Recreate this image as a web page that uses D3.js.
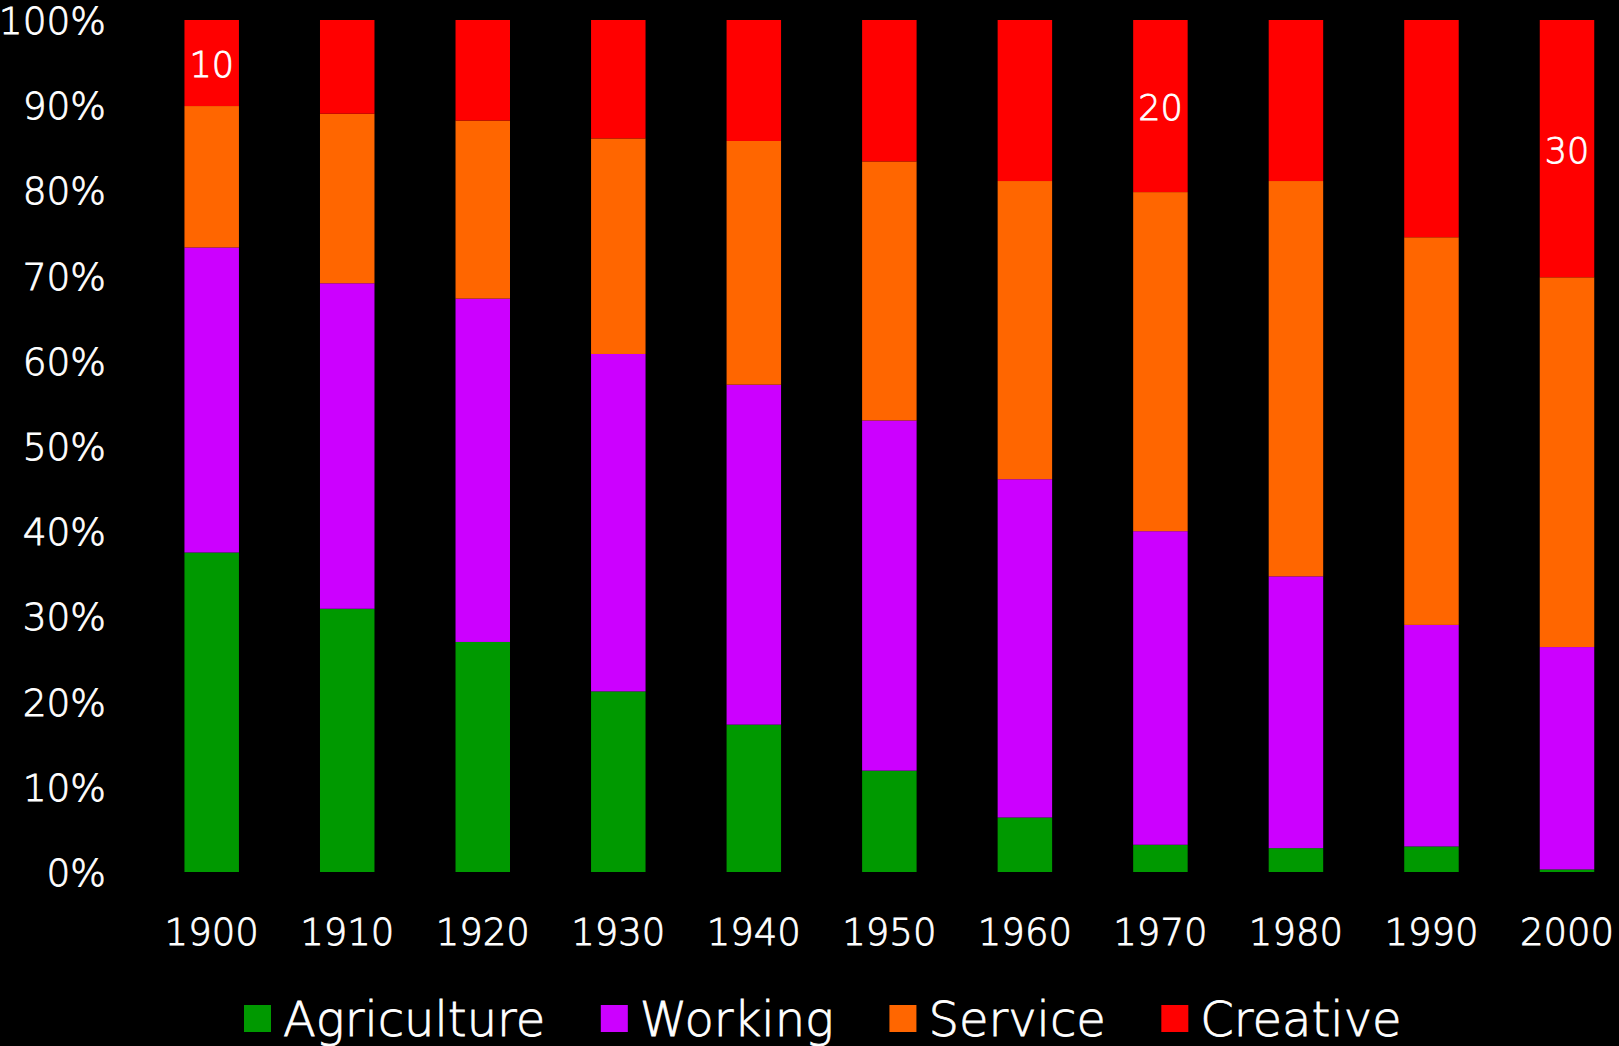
<!DOCTYPE html>
<html>
<head>
<meta charset="utf-8">
<script src="https://cdn.jsdelivr.net/npm/d3@7"></script>
<style>
  html, body { margin: 0; padding: 0; background: #000; }
  svg { display: block; }
  text { font-family: "DejaVu Sans", Verdana, sans-serif; font-weight: 200; fill: #fff; stroke: #fff; stroke-width: 0.8px; }
</style>
</head>
<body>
<svg id="chart" width="1619" height="1046"></svg>
<script>
// ---- Data ----
const years = ["1900","1910","1920","1930","1940","1950","1960","1970","1980","1990","2000"];
const seriesNames = ["Agriculture","Working","Service","Creative"];
const agriculture = [37.5, 30.9, 27.0, 21.2, 17.3, 11.9, 6.4, 3.2, 2.8, 3.0, 0.3];
const working     = [35.8, 38.2, 40.3, 39.6, 39.9, 41.1, 39.7, 36.8, 31.9, 26.0, 26.1];
const service     = [16.6, 19.9, 20.9, 25.3, 28.6, 30.4, 35.0, 39.8, 46.4, 45.5, 43.4];
const creative    = [10.1, 11.0, 11.8, 13.9, 14.2, 16.6, 18.9, 20.2, 18.9, 25.5, 30.2];
const creativeLabels = ["10", null, null, null, null, null, null, "20", null, null, "30"];
const yTicks = [0,10,20,30,40,50,60,70,80,90,100];
const colors = ["#009900","#CC00FF","#FF6600","#FF0000"];

// ---- Build table ----
const table = years.map((yr, i) => ({
  year: yr,
  Agriculture: agriculture[i],
  Working: working[i],
  Service: service[i],
  Creative: creative[i],
  label: creativeLabels[i]
}));

const svg = d3.select("#chart");

const step = 135.53;
const x = d3.scaleBand()
  .domain(years)
  .range([211.7 - step/2, 211.7 - step/2 + step*years.length])
  .paddingInner(0.598)
  .paddingOuter(0.299);

const y = d3.scaleLinear().domain([0, 100]).range([872, 20]);
const color = d3.scaleOrdinal().domain(seriesNames).range(colors);

const stacked = d3.stack().keys(seriesNames)(table);

// bars
svg.append("g").selectAll("g")
  .data(stacked)
  .join("g")
  .attr("fill", d => color(d.key))
  .selectAll("rect")
  .data(d => d)
  .join("rect")
  .attr("x", d => x(d.data.year))
  .attr("width", x.bandwidth())
  .attr("y", d => y(d[1]))
  .attr("height", d => y(d[0]) - y(d[1]));

// creative labels
const topLayer = stacked[stacked.length - 1];
svg.append("g").selectAll("text")
  .data(topLayer.filter(d => d.data.label))
  .join("text")
  .attr("x", d => x(d.data.year) + x.bandwidth()/2)
  .attr("y", d => (y(d[0]) + y(d[1]))/2 + 2)
  .attr("text-anchor", "middle")
  .attr("dominant-baseline", "central")
  .style("font-size", "35px")
  .text(d => d.data.label);

// y axis
const yAxis = d3.axisLeft(y).tickValues(yTicks).tickFormat(d => d + "%").tickSize(0).tickPadding(0);
const gy = svg.append("g").attr("transform", "translate(106,0)").call(yAxis);
gy.select(".domain").remove();
gy.selectAll("text").style("font-size", "37.5px").style("font-family", "'DejaVu Sans', sans-serif").style("font-weight", 200).attr("fill", "#fff").attr("dy", "0.36em");

// x axis
const xAxis = d3.axisBottom(x).tickSize(0).tickPadding(0);
const gx = svg.append("g").attr("transform", "translate(0,945)").call(xAxis);
gx.select(".domain").remove();
gx.selectAll("text").style("font-size", "37px").style("font-family", "'DejaVu Sans', sans-serif").style("font-weight", 200).attr("fill", "#fff").attr("dy", 0);

// legend
const legend = svg.append("g").attr("transform", "translate(244,0)");
let cx = 0;
seriesNames.forEach((name) => {
  const g = legend.append("g").attr("transform", `translate(${cx},0)`);
  g.append("rect").attr("x", 0).attr("y", 1005).attr("width", 27).attr("height", 27).attr("fill", color(name)).style("stroke", "none");
  const t = g.append("text").attr("x", 39).attr("y", 1036).style("font-size", "48px").text(name);
  cx += 39 + t.node().getComputedTextLength() + 55.5;
});
</script>
</body>
</html>
